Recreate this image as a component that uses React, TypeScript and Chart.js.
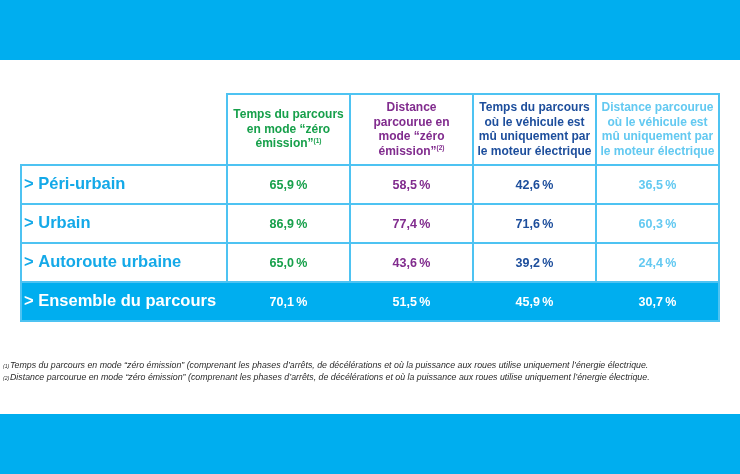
import React, { useEffect, useRef } from 'react';
import { Chart, registerables } from 'chart.js';

Chart.register(...registerables);

// ---- data ----
const ROUTES = ['> Péri-urbain', '> Urbain', '> Autoroute urbaine', '> Ensemble du parcours'];
const MEASURES = ['zeroEmissionTime', 'zeroEmissionDistance', 'electricOnlyTime', 'electricOnlyDistance'];
const HEADER_LINES = [
  ['Temps du parcours', 'en mode “zéro', 'émission”'],
  ['Distance', 'parcourue en', 'mode “zéro', 'émission”'],
  ['Temps du parcours', 'où le véhicule est', 'mû uniquement par', 'le moteur électrique'],
  ['Distance parcourue', 'où le véhicule est', 'mû uniquement par', 'le moteur électrique'],
];
const HEADER_NOTES = ['(1)', '(2)', '', ''];
const ZERO_EMISSION_TIME = [65.9, 86.9, 65.0, 70.1];
const ZERO_EMISSION_DISTANCE = [58.5, 77.4, 43.6, 51.5];
const ELECTRIC_ONLY_TIME = [42.6, 71.6, 39.2, 45.9];
const ELECTRIC_ONLY_DISTANCE = [36.5, 60.3, 24.4, 30.7];
const FOOTNOTE_MARKS = ['(1)', '(2)'];
const FOOTNOTES = [
  'Temps du parcours en mode “zéro émission” (comprenant les phases d’arrêts, de décélérations et où la puissance aux roues utilise uniquement l’énergie électrique.',
  'Distance parcourue en mode “zéro émission” (comprenant les phases d’arrêts, de décélérations et où la puissance aux roues utilise uniquement l’énergie électrique.',
];

const SERIES = [ZERO_EMISSION_TIME, ZERO_EMISSION_DISTANCE, ELECTRIC_ONLY_TIME, ELECTRIC_ONLY_DISTANCE];

// ---- styles ----
const FONT = '"Liberation Sans", Arial, Helvetica, sans-serif';
const BAND = '#00AEEF';
const BORDER = '#4EC3F2';
const ROW_LABEL = '#14A9E8';
const COL_COLORS = ['#17A04B', '#812C8E', '#1D4E9C', '#63C9F1'];
const W = 740;
const H = 474;
const TABLE_LEFT = 21;
const HEADER_H = 71;

const fmt = (v: number) => v.toFixed(1).replace('.', ',') + '\u2009%';

const tablePlugin = {
  id: 'tablePlugin',
  beforeDraw(chart: any) {
    const { ctx, chartArea, scales } = chart;
    const y = scales.y;
    ctx.save();
    ctx.fillStyle = '#ffffff';
    ctx.fillRect(0, 0, W, H);
    ctx.fillStyle = BAND;
    ctx.fillRect(0, 0, W, 60);
    ctx.fillRect(0, 414, W, H - 414);
    // last (total) row fill
    const rowH = (chartArea.bottom - chartArea.top) / ROUTES.length;
    const last = ROUTES.length - 1;
    const yc = y.getPixelForValue(last);
    ctx.fillStyle = BAND;
    ctx.fillRect(TABLE_LEFT, yc - rowH / 2, chartArea.right - TABLE_LEFT, rowH);
    ctx.restore();
  },
  afterDraw(chart: any) {
    const { ctx, chartArea, scales } = chart;
    const x = scales.x;
    const y = scales.y;
    const { left, right, top, bottom } = chartArea;
    const colW = (right - left) / MEASURES.length;
    const rowH = (bottom - top) / ROUTES.length;
    const last = ROUTES.length - 1;
    const lastTop = y.getPixelForValue(last) - rowH / 2;
    ctx.save();
    // borders
    ctx.strokeStyle = BORDER;
    ctx.lineWidth = 2;
    ctx.beginPath();
    ctx.rect(TABLE_LEFT, top, right - TABLE_LEFT, bottom - top);
    ctx.rect(left, top - HEADER_H, right - left, HEADER_H);
    for (let r = 0; r < ROUTES.length - 1; r++) {
      const yb = y.getPixelForValue(r) + rowH / 2;
      ctx.moveTo(TABLE_LEFT, yb);
      ctx.lineTo(right, yb);
    }
    for (let c = 0; c < MEASURES.length; c++) {
      const xb = x.getPixelForValue(c) - colW / 2;
      ctx.moveTo(xb, top - HEADER_H);
      ctx.lineTo(xb, lastTop);
    }
    ctx.stroke();

    // values
    ctx.textAlign = 'center';
    ctx.textBaseline = 'middle';
    ctx.font = `bold 12.5px ${FONT}`;
    SERIES.forEach((vals, c) => {
      const cx = x.getPixelForValue(c);
      vals.forEach((v, r) => {
        ctx.fillStyle = r === last ? '#ffffff' : COL_COLORS[c];
        ctx.fillText(fmt(v), cx, y.getPixelForValue(r) + 1);
      });
    });

    // headers
    const lh = 14.6;
    const hc = top - HEADER_H / 2;
    HEADER_LINES.forEach((lines, c) => {
      const cx = x.getPixelForValue(c);
      const y0 = hc - ((lines.length - 1) / 2) * lh;
      ctx.fillStyle = COL_COLORS[c];
      lines.forEach((ln, i) => {
        const ly = y0 + i * lh;
        ctx.font = `bold 12px ${FONT}`;
        const isLast = i === lines.length - 1;
        const note = isLast ? HEADER_NOTES[c] : '';
        if (note) {
          const w1 = ctx.measureText(ln).width;
          ctx.font = `bold 6.5px ${FONT}`;
          const w2 = ctx.measureText(note).width;
          const sx = cx - (w1 + w2) / 2;
          ctx.textAlign = 'left';
          ctx.font = `bold 12px ${FONT}`;
          ctx.fillText(ln, sx, ly);
          ctx.font = `bold 6.5px ${FONT}`;
          ctx.fillText(note, sx + w1, ly - 3);
          ctx.textAlign = 'center';
        } else {
          ctx.fillText(ln, cx, ly);
        }
      });
    });

    // footnotes
    ctx.textAlign = 'left';
    ctx.textBaseline = 'middle';
    ctx.fillStyle = '#2a2a2a';
    FOOTNOTES.forEach((t, i) => {
      const fy = 366 + i * 12;
      ctx.font = `italic 5px ${FONT}`;
      ctx.fillText(FOOTNOTE_MARKS[i], 3, fy + 1);
      ctx.font = `italic 8.8px ${FONT}`;
      ctx.fillText(t, 10, fy);
    });
    ctx.restore();
  },
};

export default function App() {
  const ref = useRef<HTMLCanvasElement>(null);
  useEffect(() => {
    document.body.style.margin = '0';
    const chart = new Chart(ref.current as HTMLCanvasElement, {
      type: 'bar',
      data: { labels: MEASURES, datasets: [] },
      options: {
        animation: false,
        responsive: false,
        devicePixelRatio: 1,
        layout: { padding: { left: 24, right: 21, top: 165, bottom: 153 } },
        plugins: {
          legend: { display: false },
          tooltip: { enabled: false },
          title: { display: false },
        },
        scales: {
          x: {
            type: 'category',
            labels: MEASURES,
            offset: true,
            display: false,
          },
          y: {
            type: 'category',
            labels: ROUTES,
            offset: true,
            grid: { display: false },
            border: { display: false },
            ticks: {
              crossAlign: 'far',
              padding: 0,
              font: { family: FONT, size: 16.5, weight: 'bold' },
              color: (ctx: any) => (ctx.index === ROUTES.length - 1 ? '#ffffff' : ROW_LABEL),
            },
            afterFit: (s: any) => {
              s.width = 203;
            },
          },
        },
      } as any,
      plugins: [tablePlugin],
    });
    return () => chart.destroy();
  }, []);
  return (
    <div style={{ position: 'absolute', left: 0, top: 0, width: W, height: H }}>
      <canvas ref={ref} width={W} height={H} style={{ display: 'block' }} />
    </div>
  );
}
